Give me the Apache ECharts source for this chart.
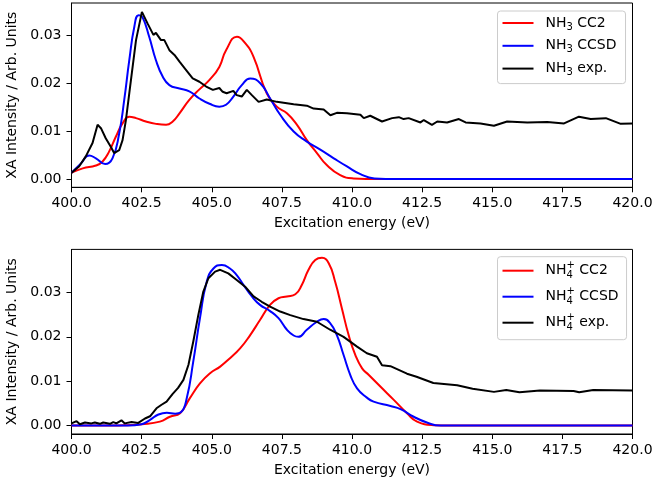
<!DOCTYPE html>
<html>
<head>
<meta charset="utf-8">
<script src="https://cdn.jsdelivr.net/npm/echarts@6/dist/echarts.min.js"></script>
<style>
html,body{margin:0;padding:0;background:#fff;}
#chart{width:658px;height:483px;}
</style>
</head>
<body>
<div id="chart"></div>
<script>
// ---------- Data ----------
// Top panel: NH3
const nh3CC2E   = [400.0,400.4,400.87,401.1,401.34,401.58,401.82,402.06,402.3,402.65,403.01,403.37,403.61,403.85,404.2,404.56,404.92,405.27,405.51,405.9,406.2,406.49,406.96,407.32,407.68,408.04,408.39,408.75,409.1,409.58,410.05,410.5,420.0];
const nh3CC2V   = [0.0013,0.0022,0.0028,0.0036,0.0057,0.0088,0.0116,0.0130,0.0127,0.0120,0.0115,0.0113,0.0120,0.0137,0.0165,0.0187,0.0207,0.0234,0.0269,0.0297,0.0283,0.0255,0.0179,0.0151,0.0137,0.0113,0.0081,0.0054,0.0029,0.0008,0.0001,0.0,0.0];

const nh3CCSDE  = [400.0,400.33,400.63,400.87,401.2,401.46,401.7,401.88,402.06,402.24,402.39,402.53,402.77,403.01,403.25,403.49,403.85,404.2,404.56,404.92,405.27,405.51,405.77,406.07,406.37,406.73,407.08,407.44,407.92,408.39,408.87,409.35,409.82,410.3,410.8,411.2,420.0];
const nh3CCSDV  = [0.0013,0.0032,0.0049,0.0043,0.0031,0.0043,0.0095,0.0165,0.0248,0.0318,0.0342,0.0338,0.0297,0.0248,0.0214,0.0196,0.0189,0.0183,0.0168,0.0157,0.0151,0.0155,0.0172,0.0196,0.0210,0.0200,0.0168,0.0134,0.0099,0.0078,0.0061,0.0043,0.0026,0.0010,0.0001,0.0,0.0];

const nh3ExpE   = [400.0,400.27,400.51,400.75,400.93,401.05,401.22,401.4,401.52,401.7,401.82,401.94,402.12,402.3,402.51,402.71,402.92,403.01,403.19,403.31,403.49,403.67,403.85,404.08,404.32,404.56,404.8,405.04,405.27,405.39,405.53,405.77,405.89,406.07,406.25,406.43,406.67,406.96,407.32,407.92,408.39,408.63,408.99,409.23,409.46,409.82,410.3,410.42,410.65,411.07,411.43,411.67,411.84,412.02,412.44,412.56,412.85,413.04,413.39,413.81,414.05,414.58,415.06,415.53,416.25,416.96,417.56,418.09,418.51,419.05,419.58,420.0];
const nh3ExpV   = [0.0013,0.0026,0.0047,0.0075,0.0113,0.0106,0.0085,0.0067,0.0054,0.0060,0.0081,0.0123,0.0207,0.0290,0.0349,0.0325,0.0301,0.0305,0.0290,0.0290,0.0269,0.0259,0.0245,0.0228,0.0210,0.0203,0.0193,0.0186,0.0190,0.0182,0.0179,0.0184,0.0175,0.0172,0.0186,0.0175,0.0161,0.0166,0.0161,0.0156,0.0153,0.0147,0.0145,0.0133,0.0138,0.0137,0.0134,0.0127,0.0132,0.0120,0.0127,0.0129,0.0125,0.0127,0.0118,0.0123,0.0113,0.0120,0.0118,0.0125,0.0118,0.0116,0.0111,0.0120,0.0118,0.0119,0.0116,0.0130,0.0125,0.0127,0.0115,0.0116];

// Bottom panel: NH4+
const nh4CC2E   = [400.0,401.5,402.0,402.5,403.15,403.51,403.87,404.22,404.58,404.94,405.3,405.65,406.01,406.37,406.72,407.08,407.38,407.68,407.98,408.21,408.45,408.69,408.93,409.17,409.4,409.64,409.88,410.12,410.36,410.6,411.01,411.49,411.96,412.32,412.92,413.5,420.0];
const nh4CC2V   = [0.0,0.0,0.0001,0.0003,0.0009,0.0020,0.0028,0.0062,0.0095,0.0118,0.0133,0.0152,0.0174,0.0204,0.0238,0.0272,0.0287,0.0291,0.0296,0.0317,0.0351,0.0373,0.0378,0.0366,0.0324,0.0264,0.0204,0.0159,0.0129,0.0114,0.0088,0.0058,0.0028,0.0009,0.0001,0.0,0.0];

const nh4CCSDE  = [400.0,402.0,402.5,402.8,403.1,403.4,403.7,403.9,404.11,404.34,404.58,404.82,405.06,405.36,405.65,405.89,406.13,406.43,406.72,407.08,407.38,407.68,407.92,408.09,408.39,408.75,408.99,409.22,409.46,409.7,409.94,410.18,410.53,410.77,411.37,411.73,412.2,412.67,413.15,420.0];
const nh4CCSDV  = [0.0,0.0,0.0003,0.0013,0.0025,0.0029,0.0027,0.0030,0.0062,0.0144,0.0242,0.0324,0.0354,0.0362,0.0354,0.0339,0.0317,0.0291,0.0272,0.0258,0.0242,0.0216,0.0203,0.0200,0.0216,0.0234,0.0240,0.0231,0.0204,0.0159,0.0114,0.0084,0.0063,0.0054,0.0044,0.0037,0.0020,0.0007,0.0,0.0];

const nh4ExpE   = [400.0,400.18,400.3,400.48,400.71,400.83,401.01,401.13,401.37,401.49,401.6,401.78,401.9,402.14,402.38,402.62,402.8,403.03,403.21,403.39,403.6,403.8,403.99,404.17,404.34,404.52,404.7,404.88,405.12,405.3,405.59,405.89,406.19,406.49,406.78,407.08,407.44,407.8,408.27,408.75,409.22,409.7,410.18,410.53,410.89,411.07,411.37,411.96,412.3,412.9,413.75,414.3,415.06,415.5,415.97,416.7,417.9,418.1,418.6,420.0];
const nh4ExpV   = [0.0005,0.0010,0.0003,0.0007,0.0005,0.0007,0.0004,0.0007,0.0004,0.0008,0.0005,0.0012,0.0005,0.0008,0.0006,0.0016,0.0021,0.0039,0.0047,0.0054,0.0071,0.0085,0.0103,0.0137,0.0189,0.0249,0.0302,0.0332,0.0347,0.0351,0.0343,0.0328,0.0313,0.0291,0.0279,0.0268,0.0257,0.0249,0.0240,0.0234,0.0216,0.0200,0.0178,0.0163,0.0155,0.0136,0.0134,0.0117,0.0110,0.0096,0.0091,0.0083,0.0076,0.0080,0.0075,0.0079,0.0078,0.0075,0.0080,0.0079];

const xTicksMin = 400, xTicksMax = 420, xTickStep = 2.5;
const yTickValues = [0.00, 0.01, 0.02, 0.03];
const topNames = ['NH3 CC2', 'NH3 CCSD', 'NH3 exp.'];
const botNames = ['NH4+ CC2', 'NH4+ CCSD', 'NH4+ exp.'];
const xName = 'Excitation energy (eV)';
const yName = 'XA Intensity / Arb. Units';

// ---------- Chart ----------
const FONT = 'DejaVu Sans';
const colors = ['#ff0000', '#0000ff', '#000000'];
function pairs(xs, ys) { return xs.map((x, i) => [x, ys[i]]); }

const chart = echarts.init(document.getElementById('chart'), null, {renderer: 'canvas'});

function xAxisCfg(gi) {
  return {
    gridIndex: gi, type: 'value', min: xTicksMin, max: xTicksMax, interval: xTickStep,
    name: xName, nameLocation: 'middle', nameGap: 29,
    nameTextStyle: {fontFamily: FONT, fontSize: 14, color: '#000'},
    axisLine: {show: true, onZero: false, lineStyle: {color: '#000', width: 1}},
    axisTick: {show: true, length: 5, inside: false, lineStyle: {color: '#000', width: 1}},
    axisLabel: {show: true, margin: 9, fontFamily: FONT, fontSize: 14, color: '#000',
      formatter: v => v.toFixed(1)},
    splitLine: {show: false}
  };
}
function yAxisCfg(gi, mn, mx) {
  return {
    gridIndex: gi, type: 'value', min: mn, max: mx,
    name: yName, nameLocation: 'middle', nameGap: 50, nameRotate: 90,
    nameTextStyle: {fontFamily: FONT, fontSize: 14, color: '#000'},
    axisLine: {show: true, onZero: false, lineStyle: {color: '#000', width: 1}},
    axisTick: {show: true, length: 5, customValues: yTickValues, lineStyle: {color: '#000', width: 1}},
    axisLabel: {show: true, margin: 10, fontFamily: FONT, fontSize: 14, color: '#000',
      customValues: yTickValues, formatter: v => v.toFixed(2)},
    splitLine: {show: false}
  };
}

const topLabels = {
  'NH3 CC2': 'NH{sub|3} CC2',
  'NH3 CCSD': 'NH{sub|3} CCSD',
  'NH3 exp.': 'NH{sub|3} exp.'
};
const botLabels = {
  'NH4+ CC2': 'NH{sub0|4}{sup|+} CC2',
  'NH4+ CCSD': 'NH{sub0|4}{sup|+} CCSD',
  'NH4+ exp.': 'NH{sub0|4}{sup|+} exp.'
};

function legendCfg(names, labels, top, lh, gap, pad) {
  return {
    data: names, orient: 'vertical', left: 497.5, top: top,
    icon: 'rect', itemWidth: 31, itemHeight: 2, itemGap: gap,
    padding: pad,
    backgroundColor: 'rgba(255,255,255,0.8)',
    borderColor: '#cccccc', borderWidth: 1, borderRadius: 3,
    formatter: n => labels[n],
    textStyle: {
      fontFamily: FONT, fontSize: 14, color: '#000', lineHeight: lh, padding: [0, 0, 0, 7],
      rich: {
        sub: {fontFamily: FONT, fontSize: 10, lineHeight: 10, verticalAlign: 'bottom', color: '#000'},
        sub0: {fontFamily: FONT, fontSize: 10, lineHeight: 10, verticalAlign: 'bottom', width: 0, align: 'left', color: '#000'},
        sup: {fontFamily: FONT, fontSize: 10, lineHeight: 10, verticalAlign: 'top', color: '#000'}
      }
    }
  };
}

function lineSeries(name, xs, ys, gi, color, smooth) {
  return {
    name: name, type: 'line', xAxisIndex: gi, yAxisIndex: gi,
    data: pairs(xs, ys), showSymbol: false, symbol: 'none',
    smooth: smooth, clip: true,
    lineStyle: {color: color, width: 2}, itemStyle: {color: color},
    emphasis: {disabled: true}, animation: false
  };
}

const option = {
  animation: false,
  backgroundColor: '#ffffff',
  grid: [
    {left: 71.5, top: 3, width: 561, height: 184.3, show: true, borderColor: '#000', borderWidth: 1,
     backgroundColor: 'transparent', containLabel: false, outerBoundsMode: 'none'},
    {left: 71.5, top: 249.4, width: 561, height: 184.6, show: true, borderColor: '#000', borderWidth: 1,
     backgroundColor: 'transparent', containLabel: false, outerBoundsMode: 'none'}
  ],
  xAxis: [xAxisCfg(0), xAxisCfg(1)],
  yAxis: [yAxisCfg(0, -0.00175, 0.03675), yAxisCfg(1, -0.00189, 0.0397)],
  legend: [
    legendCfg(topNames, topLabels, 11, 18, 4.8, [3, 9, 6, 5]),
    legendCfg(botNames, botLabels, 256.7, 20, 6, [4, 8, 7, 5])
  ],
  series: [
    lineSeries(topNames[0], nh3CC2E, nh3CC2V, 0, colors[0], 0.5),
    lineSeries(topNames[1], nh3CCSDE, nh3CCSDV, 0, colors[1], 0.5),
    lineSeries(topNames[2], nh3ExpE, nh3ExpV, 0, colors[2], false),
    lineSeries(botNames[0], nh4CC2E, nh4CC2V, 1, colors[0], 0.5),
    lineSeries(botNames[1], nh4CCSDE, nh4CCSDV, 1, colors[1], 0.5),
    lineSeries(botNames[2], nh4ExpE, nh4ExpV, 1, colors[2], false)
  ]
};
chart.setOption(option);
</script>
</body>
</html>
